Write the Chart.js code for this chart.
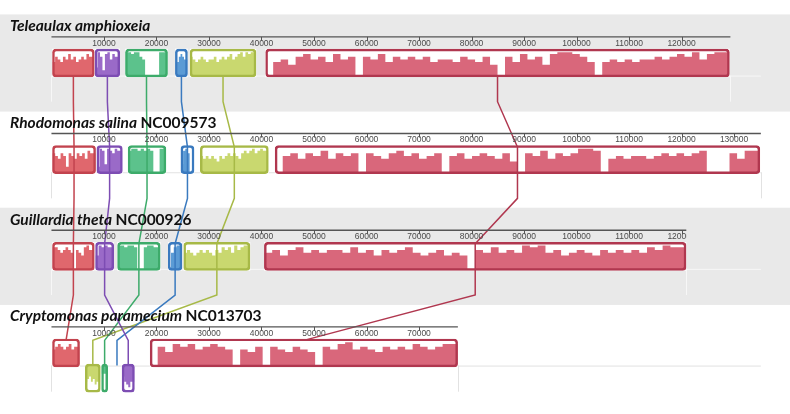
<!DOCTYPE html>
<html lang="en">
<head>
  <meta charset="UTF-8" />
  <title>Cryptophyte plastid genome alignment</title>
  <script src="https://cdn.jsdelivr.net/npm/chart.js"></script>
  <style>
    body { margin: 0; background: #fff; }
    #wrap { width: 790px; height: 414px; }
  </style>
</head>
<body>
  <div id="wrap"><canvas id="mauve" width="790" height="414"></canvas></div>

  <script>
    // genomes, top to bottom
    const genomeNames = ['Teleaulax amphioxeia', 'Rhodomonas salina', 'Guillardia theta', 'Cryptomonas paramecium'];
    const genomeIds = ['', 'NC009573', 'NC000926', 'NC013703'];
    const genomeLengths = [129300, 135100, 120900, 77400];

    const tickLabels = [
      [10000, 20000, 30000, 40000, 50000, 60000, 70000, 80000, 90000, 100000, 110000, 120000],
      [10000, 20000, 30000, 40000, 50000, 60000, 70000, 80000, 90000, 100000, 110000, 120000, 130000],
      [10000, 20000, 30000, 40000, 50000, 60000, 70000, 80000, 90000, 100000, 110000, 120000],
      [10000, 20000, 30000, 40000, 50000, 60000, 70000]
    ];

    // locally collinear blocks: red, purple, green, blue, yellow, big red
    const lcbFill = ['#e0676d', '#9a6ac8', '#5cc28c', '#5b9bd5', '#c9d86f', '#d9677b'];
    const lcbLine = ['#c2434e', '#7d4db3', '#3dab6a', '#3a7abf', '#a7b947', '#b0374f'];

    const teleStart = [200, 8300, 14100, 23600, 26400, 40800];
    const teleEnd   = [8150, 13000, 22100, 25900, 38950, 129100];
    const rhodoStart = [200, 8650, 14600, 24650, 28350, 42600];
    const rhodoEnd   = [8400, 13500, 21800, 27150, 41300, 134900];
    const guilStart = [200, 8400, 12600, 22250, 25200, 40550];
    const guilEnd   = [8150, 11850, 20700, 24850, 37800, 120850];
    const cryStart = [200, 13450, 9550, 12400, 6450, 18800];
    const cryEnd   = [5350, 15800, 10700, 12560, 9300, 77350];

    const teleRev  = [false, false, false, false, false, false];
    const rhodoRev = [false, false, false, false, false, false];
    const guilRev  = [false, false, false, false, false, false];
    const cryRev   = [false, true, true, true, true, false];

    // similarity profiles, tenths, spread evenly over each block
    const teleProf = [
      [6,5,7,6,5,7,6,8,6,7,5,6,7,6,8,7],
      [8,3,9,7,2,8,9,6,8,7],
      [8,9,9,8,9,9,7,6,0,0,0,0,0,9,9],
      [0,0,5,7,8,7,6],
      [6,7,6,5,6,7,6,5,6,6,7,5,6,7,6,7,8,6,7,8,9,7,9,8,9],
      [0,0,5,6,4,7,8,6,7,5,8,6,7,0,7,6,8,5,7,6,7,6,7,5,6,6,5,7,6,5,7,4,0,7,5,8,6,7,4,8,9,9,8,7,5,0,5,6,5,6,5,6,6,7,6,7,8,7,9,6,8,9]
    ];
    const rhodoProf = [
      [6,7,6,5,7,6,2,7,6,5,7,6,7,5,8,7],
      [8,2,9,8,3,9,8,7,9,8],
      [7,8,9,9,8,9,8,9,8,0,0,9],
      [0,3,8,9,7,0],
      [7,6,5,6,5,6,5,4,6,5,6,7,6,7,6,5,7,8,7,8,9,7,8,9,8],
      [0,0,6,7,5,7,6,8,5,7,6,7,0,7,6,5,7,8,6,7,5,6,7,0,6,7,5,6,7,6,5,7,4,0,7,6,8,5,7,6,7,9,9,8,0,5,6,5,6,6,5,6,7,6,7,6,7,8,0,0,0,7,5,8]
    ];
    const guilProf = [
      [7,8,8,7,6,7,8,7,6,0,7,6,5,8,9,7],
      [0,5,9,8,9,8],
      [8,9,9,8,9,9,8,0,0,8,9,9,8],
      [0,0,6,8,9],
      [7,6,7,6,5,6,7,6,7,6,5,7,6,8,7,8,6,9,7,8,9],
      [0,6,7,5,7,8,6,7,6,7,7,6,8,6,7,5,7,6,7,8,6,5,6,7,5,6,5,0,7,6,8,6,7,6,9,8,9,6,7,5,6,7,6,5,7,6,7,6,7,6,8,7,9,8]
    ];
    const cryProf = [
      [7,6,7,8,7,6,7,8,6,7],
      [2,4,6,7,8,6],
      [2,3],
      [],
      [5,6,5,4,6,5,7,6],
      [0,0,7,5,8,7,8,6,7,8,7,6,0,6,5,7,0,7,6,5,7,6,5,0,7,6,8,9,6,7,6,5,7,6,7,6,8,7,6,7,8]
    ];

    const starts = [teleStart, rhodoStart, guilStart, cryStart];
    const ends = [teleEnd, rhodoEnd, guilEnd, cryEnd];
    const reversed = [teleRev, rhodoRev, guilRev, cryRev];
    const profiles = [teleProf, rhodoProf, guilProf, cryProf];

    // layout (in the y scale's units)
    const ROW0 = 18, ROW_STEP = 107.4, BLOCK_H = 28, DROP = 29;
    const rulerY = g => ROW0 + g * ROW_STEP;
    const topY = g => rulerY(g) + 15;
    const baseY = g => rulerY(g) + 15 + BLOCK_H;
    const maxLen = Math.max(...genomeLengths);
    const barH = h => Math.min(h * 3, BLOCK_H - 2);

    const datasets = [];
    const bgBlocks = [];
    const ringColors = [];

    for (let g = 0; g < 4; g++) {
      for (let k = 0; k < lcbFill.length; k++) {
        const s = starts[g][k], e = ends[g][k];
        const rev = reversed[g][k];
        const prof = profiles[g][k];
        if (!prof.length) continue; // too small to draw
        const base = baseY(g);
        bgBlocks.push({ x: [s, e], y: rev ? base + BLOCK_H / 2 : base - BLOCK_H / 2 });
        ringColors.push(lcbLine[k]);

        const step = (e - s) / prof.length;
        const dir = rev ? 1 : -1;
        const pts = prof.map((h, j) => ({ x: s + j * step, y: base + dir * barH(h) }));
        pts.push({ x: e, y: pts[pts.length - 1].y });
        datasets.push({
          type: 'line',
          data: pts,
          stepped: 'after',
          borderWidth: 0,
          borderColor: 'transparent',
          pointRadius: 0,
          fill: { value: base },
          backgroundColor: lcbFill[k],
          order: 5
        });
      }
    }

    // connecting lines through block centres
    for (let k = 0; k < lcbFill.length; k++) {
      const pts = [];
      for (let g = 0; g < 4; g++) {
        const c = (starts[g][k] + ends[g][k]) / 2;
        if (g > 0) pts.push({ x: c, y: topY(g) });
        if (g < 3) {
          pts.push({ x: c, y: baseY(g) });
          pts.push({ x: c, y: baseY(g) + DROP });
        } else if (reversed[g][k]) {
          pts.push({ x: c, y: baseY(g) });
        }
      }
      datasets.push({
        type: 'line',
        data: pts,
        borderColor: lcbLine[k],
        borderWidth: 1.5,
        pointRadius: 0,
        fill: false,
        tension: 0,
        order: 4
      });
    }

    datasets.push({
      type: 'bar',
      indexAxis: 'y',
      grouped: false,
      barThickness: BLOCK_H,
      data: bgBlocks,
      backgroundColor: '#ffffff',
      borderWidth: 0,
      order: 6
    });
    datasets.push({
      type: 'bar',
      indexAxis: 'y',
      grouped: false,
      barThickness: BLOCK_H,
      data: bgBlocks,
      backgroundColor: 'rgba(0,0,0,0)',
      borderColor: ringColors,
      borderWidth: 1.8,
      borderSkipped: false,
      borderRadius: { topLeft: 3.5, topRight: 3.5, bottomLeft: 3.5, bottomRight: 3.5 },
      order: 3
    });

    const backdrop = {
      id: 'backdrop',
      beforeDatasetsDraw(chart) {
        const { ctx, scales: { x, y } } = chart;
        ctx.save();
        ctx.fillStyle = '#ffffff';
        ctx.fillRect(0, 0, chart.width, chart.height);
        for (let g = 0; g < 4; g++) {
          const gray = g % 2 === 0;
          if (gray) {
            ctx.fillStyle = '#e9e9e9';
            const t = y.getPixelForValue(rulerY(g) - 25);
            const b = y.getPixelForValue(rulerY(g) + 83);
            ctx.fillRect(0, t, chart.width, b - t);
          }
          // reverse strand frame
          const by = y.getPixelForValue(baseY(g));
          const ly = y.getPixelForValue(baseY(g) + DROP);
          ctx.strokeStyle = gray ? '#f7f7f7' : '#e2e2e2';
          ctx.lineWidth = 1;
          ctx.beginPath();
          ctx.moveTo(x.getPixelForValue(0), by + 0.5);
          ctx.lineTo(x.getPixelForValue(maxLen), by + 0.5);
          const x0 = Math.round(x.getPixelForValue(0)) + 0.5;
          const x1 = Math.round(x.getPixelForValue(genomeLengths[g])) + 0.5;
          ctx.moveTo(x0, by);
          ctx.lineTo(x0, ly);
          ctx.moveTo(x1, by);
          ctx.lineTo(x1, ly);
          ctx.stroke();
        }
        ctx.restore();
      },
      afterDatasetsDraw(chart) {
        const { ctx, scales: { x, y } } = chart;
        ctx.save();
        for (let g = 0; g < 4; g++) {
          const ry = y.getPixelForValue(rulerY(g));
          const x0 = x.getPixelForValue(0);
          const x1 = x.getPixelForValue(genomeLengths[g]);
          ctx.strokeStyle = '#555';
          ctx.lineWidth = 1.4;
          ctx.beginPath();
          ctx.moveTo(x0, ry);
          ctx.lineTo(x1, ry);
          ctx.stroke();

          ctx.save();
          ctx.beginPath();
          ctx.rect(0, ry - 2, x1, 14);
          ctx.clip();
          ctx.font = '8.5px "Liberation Sans", Arial, sans-serif';
          ctx.fillStyle = '#4a4a4a';
          ctx.textAlign = 'center';
          ctx.textBaseline = 'middle';
          ctx.lineWidth = 1;
          tickLabels[g].forEach(v => {
            const px = x.getPixelForValue(v);
            ctx.fillText(String(v), px, ry + 6.5);
            ctx.beginPath();
            ctx.moveTo(Math.round(px) + 0.5, ry);
            ctx.lineTo(Math.round(px) + 0.5, ry + 4);
            ctx.stroke();
          });
          ctx.restore();

          // genome title
          ctx.fillStyle = '#111';
          ctx.textAlign = 'left';
          ctx.textBaseline = 'alphabetic';
          ctx.font = 'italic bold 15.5px Lato, sans-serif';
          const tx = 10, ty = ry - 5.5;
          ctx.fillText(genomeNames[g], tx, ty);
          if (genomeIds[g]) {
            const w = ctx.measureText(genomeNames[g] + ' ').width;
            ctx.font = 'bold 15.5px Lato, sans-serif';
            ctx.fillText(genomeIds[g], tx + w, ty);
          }
        }
        ctx.restore();
      }
    };

    new Chart(document.getElementById('mauve'), {
      type: 'line',
      data: { datasets: datasets },
      options: {
        responsive: false,
        animation: false,
        devicePixelRatio: 1,
        layout: { padding: 0 },
        scales: {
          x: { type: 'linear', min: -9800, max: 140650, display: false },
          y: { type: 'linear', min: 0, max: 414, reverse: true, display: false }
        },
        plugins: {
          legend: { display: false },
          tooltip: { enabled: false }
        }
      },
      plugins: [backdrop]
    });
  </script>
</body>
</html>
